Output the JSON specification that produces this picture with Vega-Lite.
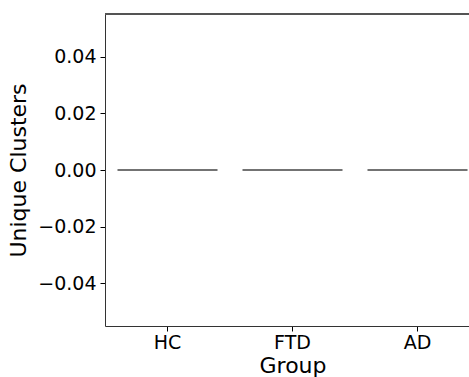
{
  "$schema": "https://vega.github.io/schema/vega-lite/v6.json",
  "width": 375,
  "height": 312,
  "autosize": {"type": "none"},
  "padding": {"left": 105, "top": 14, "right": -11, "bottom": 51},
  "background": "white",
  "config": {
    "font": "DejaVu Sans",
    "view": {"stroke": null},
    "axis": {"grid": false, "domain": true, "domainColor": "#333333", "domainWidth": 1, "tickColor": "#000000", "tickSize": 5, "tickWidth": 1, "labelColor": "#000000", "titleColor": "#000000", "labelFont": "DejaVu Sans", "titleFont": "DejaVu Sans", "titleFontWeight": "normal"}
  },
  "data": {"values": [
    {"Group": "HC", "Unique Clusters": 0},
    {"Group": "HC", "Unique Clusters": 0},
    {"Group": "HC", "Unique Clusters": 0},
    {"Group": "FTD", "Unique Clusters": 0},
    {"Group": "FTD", "Unique Clusters": 0},
    {"Group": "FTD", "Unique Clusters": 0},
    {"Group": "AD", "Unique Clusters": 0},
    {"Group": "AD", "Unique Clusters": 0},
    {"Group": "AD", "Unique Clusters": 0}
  ]},
  "encoding": {
    "y": {
      "field": "Unique Clusters", "type": "quantitative", "title": "Unique Clusters",
      "scale": {"domain": [-0.0552, 0.0552], "nice": false, "zero": false},
      "axis": {"title": "Unique Clusters", "values": [-0.04, -0.02, 0, 0.02, 0.04], "format": ".2f", "labelFontSize": 19, "labelPadding": 4, "titleFontSize": 22, "titlePadding": 7}
    }
  },
  "layer": [
    {
      "mark": {"type": "tick", "size": 100, "thickness": 1.5, "color": "#444444", "opacity": 1},
      "encoding": {
        "x": {
          "field": "Group", "type": "nominal", "sort": ["HC", "FTD", "AD"], "title": "Group",
          "scale": {"paddingInner": 0, "paddingOuter": 0},
          "axis": {"labelAngle": 0, "labelFontSize": 19, "labelPadding": 2, "titleFontSize": 22, "titlePadding": 3}
        },
        "y": {"aggregate": "median", "field": "Unique Clusters", "type": "quantitative", "title": "Unique Clusters"}
      }
    },
    {
      "mark": {"type": "rule", "color": "#555555", "strokeWidth": 1},
      "encoding": {"y": {"datum": 0.0552}}
    }
  ]
}
